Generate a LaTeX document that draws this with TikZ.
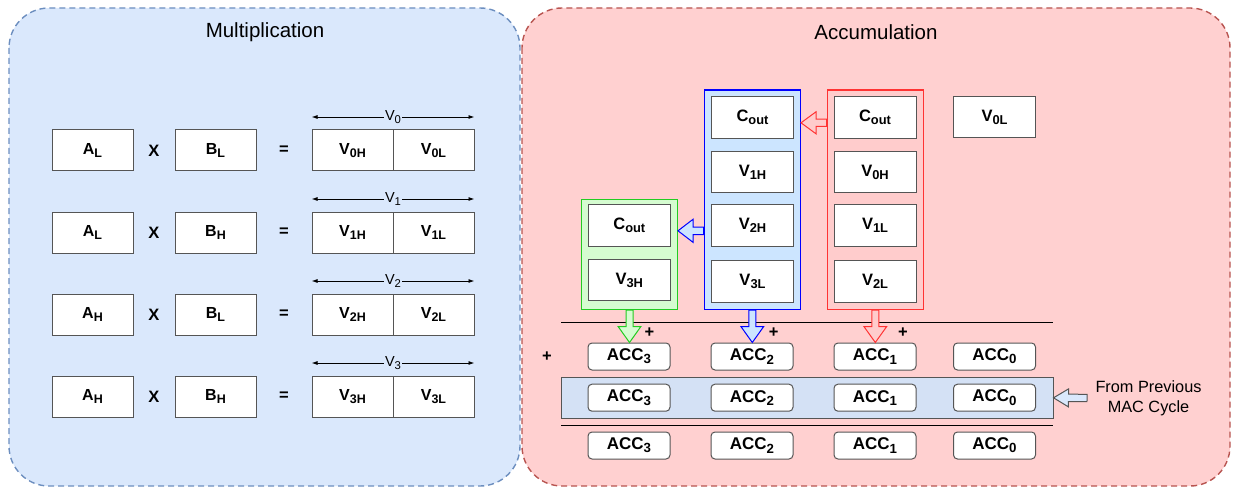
\documentclass[tikz,border=0pt]{standalone}
\usepackage{fontspec}
\setmainfont{Liberation Sans}
\usetikzlibrary{calc,arrows.meta}

\definecolor{mulfill}{HTML}{DAE8FC}
\definecolor{mulline}{HTML}{6C8EBF}
\definecolor{accfill}{HTML}{FFD0D0}
\definecolor{accline}{HTML}{B85450}
\definecolor{redline}{HTML}{FF3333}
\definecolor{redfill}{HTML}{FFCCCC}
\definecolor{bluline}{HTML}{0000FF}
\definecolor{blufill}{HTML}{CCE5FF}
\definecolor{grnline}{HTML}{22CC22}
\definecolor{grnfill}{HTML}{D5FCD0}
\definecolor{bandfill}{HTML}{D4E1F5}
\definecolor{boxline}{HTML}{555555}

% subscript at 78% of the current size, lowered a little
\makeatletter
\newcommand\sub[1]{\raisebox{-0.19em}{\fontsize{\strip@pt\dimexpr0.78\dimexpr\f@size pt\relax\relax}{1}\selectfont #1}}
\makeatother

% hollow block arrow: [style]{tail}{tip}{shaft half width}{head half width}{head length}
\newcommand\blockarrow[6][]{%
  \coordinate (ba-base) at ($(#3)!#6!(#2)$);
  \draw[#1] ($(#2)!#4!90:(#3)$) -- ($(ba-base)!#4!-90:(#2)$)
    -- ($(ba-base)!#5!-90:(#2)$) -- (#3) -- ($(ba-base)!#5!90:(#2)$)
    -- ($(ba-base)!#4!90:(#2)$) -- ($(#2)!#4!-90:(#3)$) -- cycle;
}

\tikzset{
  panel/.style={rounded corners=40pt, dash pattern=on 6pt off 4pt, line width=1.4pt},
  title/.style={font=\fontsize{20.5}{23}\selectfont},
  cell/.style={draw=boxline, fill=white, line width=1pt, inner sep=0pt,
    minimum width=81pt, minimum height=41pt, font=\fontsize{16}{18}\selectfont\bfseries},
  rcell/.style={cell, minimum width=82pt, minimum height=41.5pt, font=\fontsize{16.5}{18}\selectfont\bfseries},
  acc/.style={cell, rounded corners=4pt, minimum width=82pt, minimum height=27pt, font=\fontsize{17}{18}\selectfont\bfseries},
  grp/.style={line width=1.4pt, inner sep=0pt},
  op/.style={font=\fontsize{16.5}{18}\selectfont\bfseries},
  dimarrow/.style={{Latex[length=6pt,width=4pt]}-{Latex[length=6pt,width=4pt]}, line width=0.9pt},
  vlabel/.style={fill=mulfill, inner sep=1pt, font=\fontsize{14.5}{15}\selectfont},
  rule/.style={line width=1.1pt, black},
}

\begin{document}
\begin{tikzpicture}[x=1pt, y=-1pt]
\useasboundingbox (0,0) rectangle (1233,489);

% the two stages
\draw[panel, fill=accfill, draw=accline] (522,8) rectangle (1230,486);
\draw[panel, fill=mulfill, draw=mulline] (9,8) rectangle (520,486);
\node[title] (multitle) at (265,32) {Multiplication};
\node[title] (acctitle) at (876,32) {Accumulation};

% partial products
\foreach \i/\a/\b in {0/L/L, 1/L/H, 2/H/L, 3/H/H} {
  \pgfmathsetmacro\yy{150.5+82*\i}
  \node[cell] (a\i) at (92.5,\yy) {A\sub{\a}};
  \node[op] (x\i) at (154,\yy) {X};
  \node[cell] (b\i) at (215.5,\yy) {B\sub{\b}};
  \node[op] (eq\i) at (284,\yy) {=};
  \node[cell] (vh\i) at (352.5,\yy) {V\sub{\i H}};
  \node[cell] (vl\i) at (433.5,\yy) {V\sub{\i L}};
  \draw[dimarrow] ([yshift=12.5pt]vh\i.north west) -- node[vlabel] {V\sub{\i}} ([yshift=12.5pt]vl\i.north east);
}

% column groups
\node[grp, draw=redline, fill=redfill, minimum width=96pt, minimum height=219.3pt] (rgrp) at (875.3,199.65) {};
\node[grp, draw=bluline, fill=blufill, minimum width=96pt, minimum height=219.3pt] (bgrp) at (752.3,199.65) {};
\node[grp, draw=grnline, fill=grnfill, minimum width=95.6pt, minimum height=110pt] (ggrp) at (629.5,254.3) {};

\node[rcell] (rc) at (875,117.5) {C\sub{out}};
\node[rcell] (r0) at (875,172) {V\sub{0H}};
\node[rcell] (r1) at (875,225.7) {V\sub{1L}};
\node[rcell] (r2) at (875,281.5) {V\sub{2L}};

\node[rcell] (bc) at (752.5,117.5) {C\sub{out}};
\node[rcell] (b1h) at (752.5,172) {V\sub{1H}};
\node[rcell] (b2h) at (752.5,225.7) {V\sub{2H}};
\node[rcell] (b3l) at (752.5,281.5) {V\sub{3L}};

\node[rcell] (gc) at (629.3,225.5) {C\sub{out}};
\node[rcell] (g3h) at (629.3,280.2) {V\sub{3H}};

\node[rcell] (v0l) at (994.5,117.2) {V\sub{0L}};

% carries between groups
\coordinate (rtail) at ([yshift=-5.3pt]rc.center -| rgrp.west);
\coordinate (rtip) at ([yshift=-5.3pt]rc.center -| bgrp.east);
\blockarrow[draw=redline, fill=redfill, line width=1pt]{rtail}{rtip}{3.7pt}{11pt}{15pt}
\coordinate (btail) at ([yshift=-5.3pt]gc.center -| bgrp.west);
\coordinate (btip) at ([yshift=-5.3pt]gc.center -| ggrp.east);
\blockarrow[draw=bluline, fill=blufill, line width=1pt]{btail}{btip}{3.7pt}{11.5pt}{15pt}

% accumulator rows
\draw[rule] (561,322.7) -- (1053,322.7);
\draw[rule] (561,425.3) -- (1053,425.3);
\node[draw=boxline, fill=bandfill, line width=1pt, inner sep=0pt, minimum width=492pt, minimum height=41pt] (band) at (807,397.8) {};

\foreach \r/\y in {a/356.5, b/397.7, c/445.5} {
  \node[acc] (acc3\r) at (629,\y) {ACC\sub{3}};
  \node[acc] (acc2\r) at (752,\y) {ACC\sub{2}};
  \node[acc] (acc1\r) at (875,\y) {ACC\sub{1}};
  \node[acc] (acc0\r) at (994.5,\y) {ACC\sub{0}};
}

% group sums into the accumulators
\coordinate (gtip) at (ggrp.south |- acc3a.north);
\coordinate (btip2) at (bgrp.south |- acc2a.north);
\coordinate (rtip2) at (rgrp.south |- acc1a.north);
\blockarrow[draw=grnline, fill=grnfill, line width=1pt]{ggrp.south}{gtip}{3.5pt}{11.4pt}{16pt}
\blockarrow[draw=bluline, fill=blufill, line width=1pt]{bgrp.south}{btip2}{3.5pt}{11.4pt}{16pt}
\blockarrow[draw=redline, fill=redfill, line width=1pt]{rgrp.south}{rtip2}{3.5pt}{11.4pt}{16pt}

\node[op] (p3) at (649.5,333) {+};
\node[op] (p2) at (773.6,333) {+};
\node[op] (p1) at (903,333) {+};
\node[op] (p0) at (547,356.5) {+};

% previous accumulator value
\node[align=center, font=\fontsize{16.3}{20}\selectfont] (prev) at (1148.5,398) {From Previous\\MAC Cycle};
\coordinate (ptail) at (1087,398);
\blockarrow[draw=boxline, fill=mulfill, line width=1pt]{ptail}{band.east}{3.7pt}{9pt}{15pt}
\end{tikzpicture}
\end{document}
